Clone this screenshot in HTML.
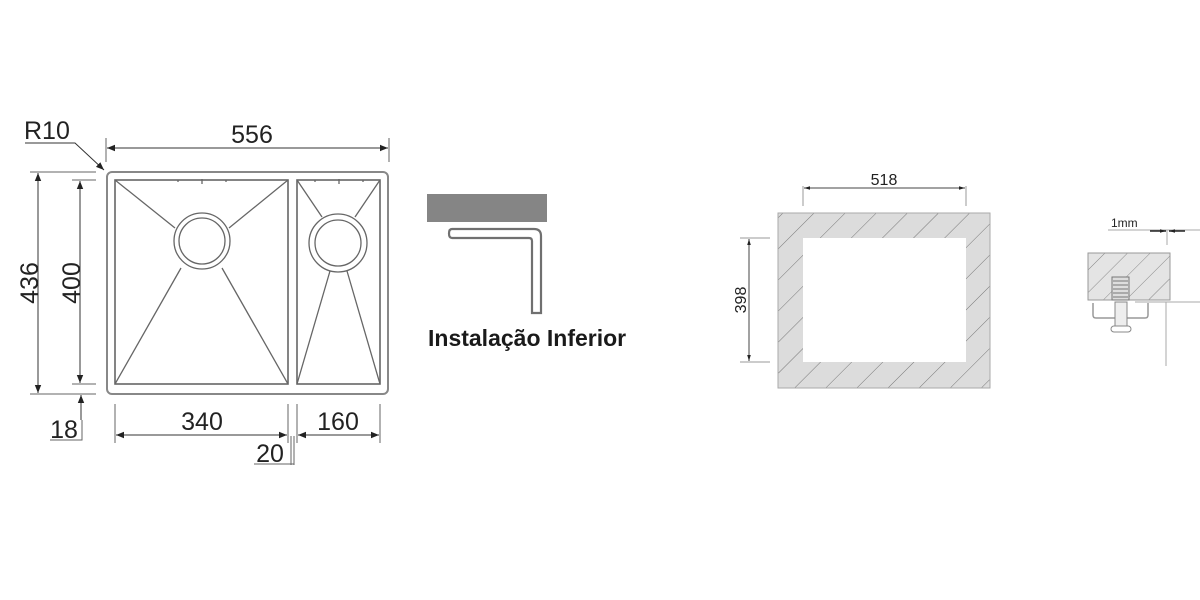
<!DOCTYPE html>
<html><head><meta charset="utf-8"><style>
html,body{margin:0;padding:0;background:#fff;width:1200px;height:600px;overflow:hidden}
svg{display:block}
text{font-family:"Liberation Sans",Arial,sans-serif}
</style></head><body>
<svg width="1200" height="600" viewBox="0 0 1200 600" xmlns="http://www.w3.org/2000/svg">
<defs>
<marker id="a" viewBox="0 0 10 10" refX="10" refY="5" markerWidth="10" markerHeight="6" orient="auto-start-reverse" markerUnits="userSpaceOnUse"><path d="M0,2 L10,5 L0,8z" fill="#222"/></marker>
<marker id="b" viewBox="0 0 10 10" refX="10" refY="5" markerWidth="12" markerHeight="8" orient="auto-start-reverse" markerUnits="userSpaceOnUse"><path d="M0,1 L10,5 L0,9z" fill="#222"/></marker>
<pattern id="h" patternUnits="userSpaceOnUse" width="22" height="22" patternTransform="rotate(45)">
<rect width="22" height="22" fill="#dcdcdc"/><line x1="0" y1="0" x2="0" y2="22" stroke="#777" stroke-width="1"/></pattern>
<pattern id="h2" patternUnits="userSpaceOnUse" width="16" height="16" patternTransform="rotate(45)">
<rect width="16" height="16" fill="#e4e4e4"/><line x1="0" y1="0" x2="0" y2="16" stroke="#888" stroke-width="1"/></pattern>
</defs>

<g fill="none" stroke="#666" stroke-width="1.3">
<rect x="107" y="172" width="281" height="222" rx="5" stroke="#888" stroke-width="2"/>
<rect x="115" y="180" width="173" height="204" stroke-width="1.6"/>
<rect x="297" y="180" width="83" height="204" stroke-width="1.6"/>
<circle cx="202" cy="241" r="28"/><circle cx="202" cy="241" r="23"/>
<circle cx="338" cy="243" r="29"/><circle cx="338" cy="243" r="23"/>
<line x1="115" y1="180" x2="175" y2="228"/><line x1="288" y1="180" x2="229" y2="228"/>
<line x1="115" y1="384" x2="181" y2="268"/><line x1="288" y1="384" x2="222" y2="268"/>
<line x1="297" y1="180" x2="322" y2="217"/><line x1="380" y1="180" x2="355" y2="217"/>
<line x1="297" y1="384" x2="330" y2="271"/><line x1="380" y1="384" x2="347" y2="271"/>
<line x1="178" y1="180" x2="178" y2="182"/><line x1="202" y1="179" x2="202" y2="184"/><line x1="226" y1="180" x2="226" y2="182"/>
<line x1="315" y1="180" x2="315" y2="182"/><line x1="339" y1="179" x2="339" y2="184"/><line x1="363" y1="180" x2="363" y2="182"/>
</g>
<g stroke="#666" stroke-width="1" fill="none">
<line x1="106" y1="138" x2="106" y2="162"/><line x1="389" y1="138" x2="389" y2="162"/>
<line x1="107" y1="148" x2="388" y2="148" marker-start="url(#b)" marker-end="url(#b)" stroke="#333"/>
<polyline points="25,143 75,143 104,170" stroke="#333" marker-end="url(#b)"/>
<line x1="30" y1="172" x2="96" y2="172"/><line x1="30" y1="394" x2="96" y2="394"/>
<line x1="72" y1="180" x2="96" y2="180"/><line x1="72" y1="384" x2="96" y2="384"/>
<line x1="38" y1="173" x2="38" y2="393" marker-start="url(#b)" marker-end="url(#b)" stroke="#333"/>
<line x1="80" y1="181" x2="80" y2="383" marker-start="url(#b)" marker-end="url(#b)" stroke="#333"/>
<line x1="81" y1="420" x2="81" y2="395" marker-end="url(#b)" stroke="#333"/>
<polyline points="50,440 82,440 82,420"/>
<line x1="115" y1="404" x2="115" y2="443"/><line x1="288" y1="404" x2="288" y2="443"/>
<line x1="297" y1="404" x2="297" y2="443"/><line x1="380" y1="404" x2="380" y2="443"/>
<line x1="116" y1="435" x2="287" y2="435" marker-start="url(#b)" marker-end="url(#b)" stroke="#333"/>
<line x1="298" y1="435" x2="379" y2="435" marker-start="url(#b)" marker-end="url(#b)" stroke="#333"/>
<line x1="291" y1="436" x2="291" y2="465"/><line x1="294" y1="436" x2="294" y2="465"/>
<line x1="254" y1="464" x2="294" y2="464"/>
</g>
<g fill="#222" font-size="25">
<text x="252" y="143" text-anchor="middle">556</text>
<text x="24" y="139">R10</text>
<text x="202" y="430" text-anchor="middle">340</text>
<text x="338" y="430" text-anchor="middle">160</text>
<text x="270" y="462" text-anchor="middle">20</text>
<text x="64" y="438" text-anchor="middle">18</text>
<text transform="translate(38,283) rotate(-90)" text-anchor="middle">436</text>
<text transform="translate(80,283) rotate(-90)" text-anchor="middle">400</text>
</g>

<rect x="427" y="194" width="120" height="28" fill="#858585"/>
<path d="M452,229 L534,229 Q541,229 541,236 L541,313 L532,313 L532,241 Q532,238 529,238 L452,238 Q449,238 449,233.5 Q449,229 452,229 Z" fill="#fff" stroke="#707070" stroke-width="2.2"/>
<text x="428" y="346" font-size="23" font-weight="bold" fill="#1a1a1a">Instalação Inferior</text>

<rect x="778" y="213" width="212" height="175" fill="url(#h)" stroke="#aaa"/>
<rect x="803" y="238" width="163" height="124" fill="#fff"/>
<g stroke="#999" stroke-width="1">
<line x1="803" y1="186" x2="803" y2="206"/><line x1="966" y1="186" x2="966" y2="206"/>
<line x1="740" y1="238" x2="770" y2="238"/><line x1="740" y1="362" x2="770" y2="362"/>
</g>
<line x1="804" y1="188" x2="965" y2="188" stroke="#444" marker-start="url(#a)" marker-end="url(#a)"/>
<line x1="749" y1="239" x2="749" y2="361" stroke="#444" marker-start="url(#a)" marker-end="url(#a)"/>
<text x="884" y="185" font-size="16" text-anchor="middle" fill="#222">518</text>
<text transform="translate(746,300) rotate(-90)" font-size="16" text-anchor="middle" fill="#222">398</text>

<rect x="1088" y="253" width="82" height="47" fill="url(#h2)" stroke="#999"/>
<rect x="1112" y="277" width="17" height="23" fill="#ddd" stroke="#777"/>
<g stroke="#777" stroke-width="1">
<line x1="1113" y1="281" x2="1128" y2="281"/><line x1="1113" y1="285" x2="1128" y2="285"/><line x1="1113" y1="289" x2="1128" y2="289"/><line x1="1113" y1="293" x2="1128" y2="293"/><line x1="1113" y1="297" x2="1128" y2="297"/>
</g>
<path d="M1093,303 L1093,315 Q1093,318 1096,318 L1145,318 Q1148,318 1148,315 L1148,303" fill="none" stroke="#999" stroke-width="1.5"/>
<rect x="1115" y="302" width="12" height="28" fill="#eee" stroke="#888"/>
<rect x="1111" y="326" width="20" height="6" rx="3" fill="#fff" stroke="#888"/>
<g stroke="#aaa" stroke-width="1">
<line x1="1108" y1="230" x2="1200" y2="230"/>
<line x1="1167" y1="230" x2="1167" y2="245"/>
<line x1="1135" y1="302" x2="1200" y2="302"/>
<line x1="1166" y1="302" x2="1166" y2="366"/>
</g>
<line x1="1150" y1="231" x2="1166" y2="231" stroke="#222" stroke-width="1.5" marker-end="url(#a)"/>
<line x1="1185" y1="231" x2="1169" y2="231" stroke="#222" stroke-width="1.5" marker-end="url(#a)"/>
<text x="1111" y="227" font-size="12" fill="#222">1mm</text>
</svg>
</body></html>
